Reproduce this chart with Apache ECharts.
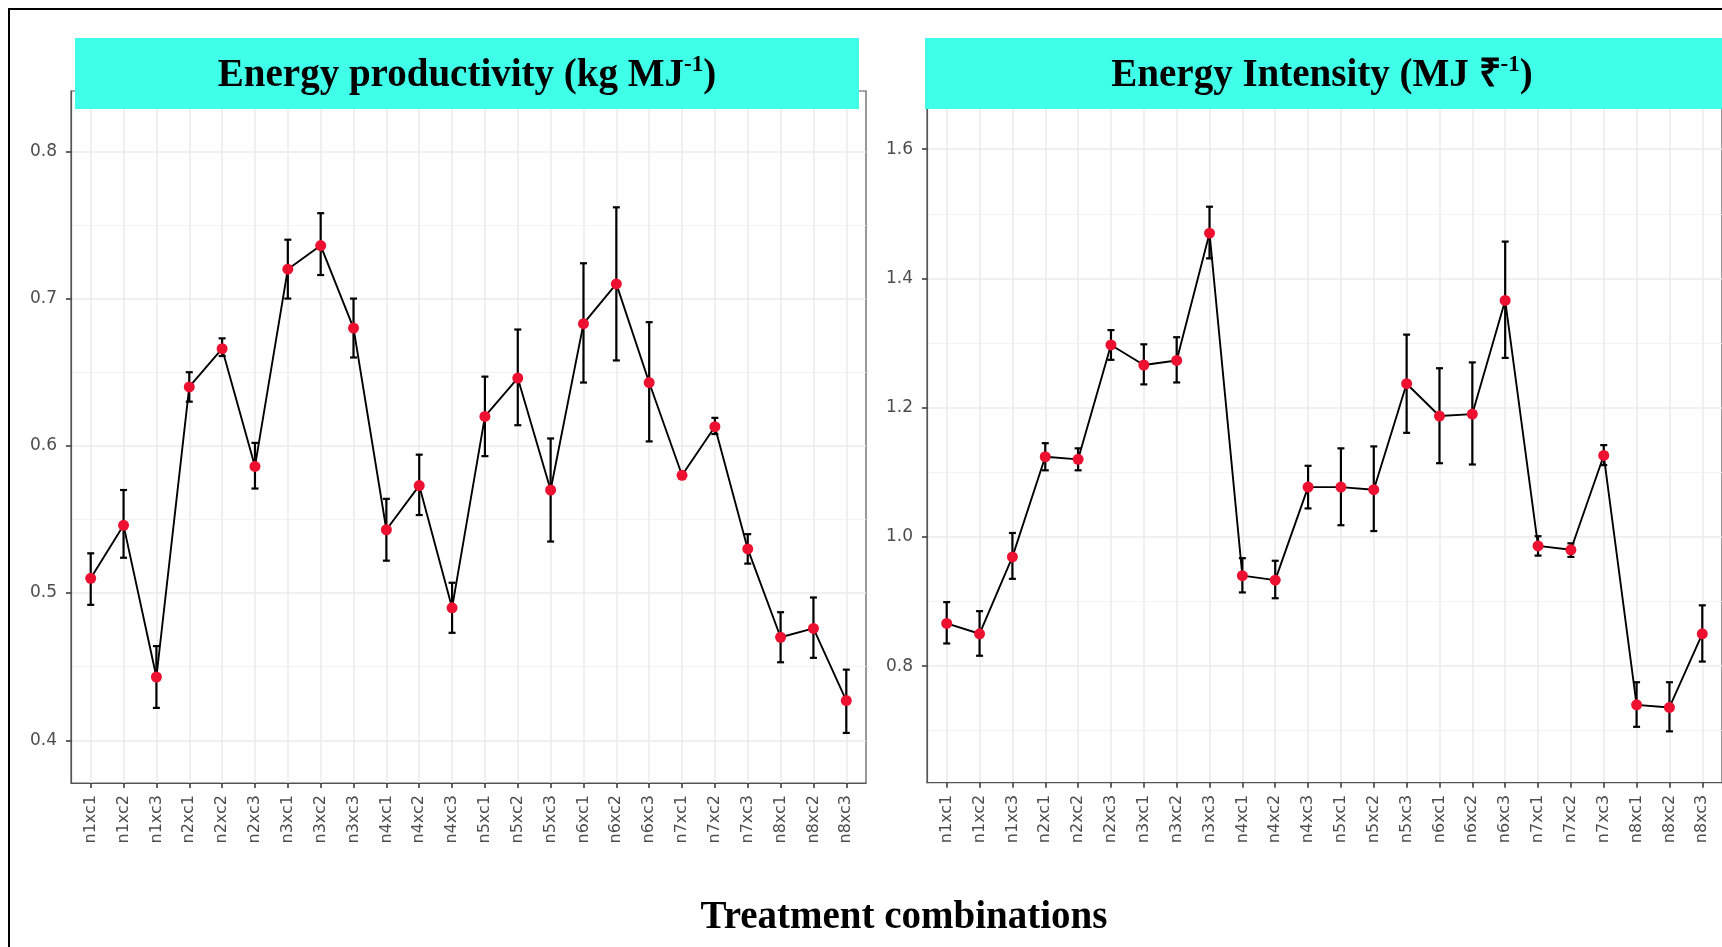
<!DOCTYPE html>
<html><head><meta charset="utf-8">
<script src="https://cdn.jsdelivr.net/npm/echarts@6/dist/echarts.min.js"></script>
<style>
html,body{margin:0;padding:0;background:#fff;}
#wrap{position:relative;width:1722px;height:947px;overflow:hidden;}
#chart{position:absolute;left:0;top:0;width:1722px;height:947px;}
#frame{position:absolute;left:8px;top:8px;width:1714px;height:939px;border-top:2px solid #000;border-left:2px solid #000;pointer-events:none;}
</style></head><body>
<div id="wrap"><div id="chart"></div><div id="frame"></div></div>
<script>
const categories = ['n1xc1','n1xc2','n1xc3','n2xc1','n2xc2','n2xc3','n3xc1','n3xc2','n3xc3','n4xc1','n4xc2','n4xc3',
  'n5xc1','n5xc2','n5xc3','n6xc1','n6xc2','n6xc3','n7xc1','n7xc2','n7xc3','n8xc1','n8xc2','n8xc3'];

const productivity     = [0.510,0.546,0.443,0.640,0.666,0.586,0.720,0.736,0.680,0.543,0.573,0.490,0.620,0.646,0.570,0.683,0.710,0.643,0.580,0.613,0.530,0.470,0.476,0.427];
const productivityLow  = [0.492,0.524,0.422,0.630,0.661,0.571,0.700,0.716,0.660,0.522,0.553,0.473,0.593,0.614,0.535,0.643,0.658,0.603,0.579,0.608,0.520,0.453,0.456,0.405];
const productivityHigh = [0.527,0.570,0.464,0.650,0.673,0.602,0.740,0.758,0.700,0.564,0.594,0.507,0.647,0.679,0.605,0.724,0.762,0.684,0.581,0.619,0.540,0.487,0.497,0.448];

const intensity     = [0.866,0.850,0.969,1.124,1.120,1.297,1.266,1.273,1.470,0.940,0.933,1.077,1.077,1.073,1.237,1.187,1.190,1.366,0.986,0.980,1.126,0.740,0.736,0.850];
const intensityLow  = [0.835,0.816,0.935,1.103,1.103,1.274,1.236,1.239,1.431,0.914,0.905,1.044,1.018,1.009,1.161,1.114,1.112,1.277,0.971,0.969,1.111,0.706,0.699,0.807];
const intensityHigh = [0.899,0.885,1.006,1.145,1.137,1.320,1.298,1.309,1.511,0.967,0.963,1.110,1.137,1.140,1.313,1.261,1.270,1.457,1.001,0.990,1.142,0.775,0.775,0.894];

const productivityTicks      = [0.4,0.5,0.6,0.7,0.8];
const productivityMinorTicks = [0.45,0.55,0.65,0.75];
const intensityTicks         = [0.8,1.0,1.2,1.4,1.6];
const intensityMinorTicks    = [0.7,0.9,1.1,1.3,1.5];

const leftTitle  = '{m|Energy productivity (kg MJ}{s|-1}{m|)}';
const rightTitle = '{m|Energy Intensity (MJ ₹}{s|-1}{m|)}';
const xTitle = 'Treatment combinations';

const catIdx = categories.map((c, i) => i);
const GREY = '#4D4D4D';

function xAxisFor(gi) {
  return {
    type: 'value', gridIndex: gi, min: -0.6, max: categories.length - 0.4,
    axisLine: { show: true, onZero: false, lineStyle: { color: '#555', width: 1.2 } },
    axisTick: { show: true, length: 5, customValues: catIdx, lineStyle: { color: '#333', width: 1.5 } },
    axisLabel: { customValues: catIdx, rotate: 90, margin: 12, fontFamily: 'DejaVu Sans', fontSize: 16, color: GREY,
      padding: [7, 0, 0, 0], formatter: v => categories[Math.round(v)] },
    splitLine: { show: true, lineStyle: { color: '#EBEBEB', width: 1.5 } }
  };
}
function yMinor(gi, min, max, minor) {
  return {
    type: 'value', gridIndex: gi, min, max, position: 'left',
    axisLine: { show: false }, axisTick: { show: false, customValues: minor }, axisLabel: { show: false, customValues: minor },
    splitLine: { show: true, lineStyle: { color: '#F3F3F3', width: 1 } }
  };
}
function yMajor(gi, min, max, ticks) {
  return {
    type: 'value', gridIndex: gi, min, max, position: 'left',
    axisLine: { show: true, onZero: false, lineStyle: { color: '#555', width: 1.2 } },
    axisTick: { show: true, length: 5, customValues: ticks, lineStyle: { color: '#333', width: 1.5 } },
    axisLabel: { customValues: ticks, margin: 14, fontFamily: 'DejaVu Sans', fontSize: 17, color: GREY,
      formatter: v => v.toFixed(1) },
    splitLine: { show: true, lineStyle: { color: '#EBEBEB', width: 1.5 } }
  };
}

function errorBar(params, api) {
  const x = api.value(0);
  const lo = api.coord([x, api.value(1)]);
  const hi = api.coord([x, api.value(2)]);
  const w = 3.5;
  const style = { stroke: '#000', lineWidth: 2.2 };
  return { type: 'group', children: [
    { type: 'line', shape: { x1: lo[0], y1: lo[1], x2: hi[0], y2: hi[1] }, style },
    { type: 'line', shape: { x1: lo[0] - w, y1: lo[1], x2: lo[0] + w, y2: lo[1] }, style },
    { type: 'line', shape: { x1: hi[0] - w, y1: hi[1], x2: hi[0] + w, y2: hi[1] }, style }
  ]};
}

function seriesFor(xi, yi, vals, lows, highs) {
  return [
    { type: 'custom', xAxisIndex: xi, yAxisIndex: yi, z: 3, renderItem: errorBar,
      encode: { x: 0, y: [1, 2] }, data: lows.map((l, i) => [i, l, highs[i]]) },
    { type: 'line', xAxisIndex: xi, yAxisIndex: yi, z: 4, data: vals.map((v, i) => [i, v]),
      symbol: 'circle', symbolSize: 11, itemStyle: { color: '#EE1030', borderWidth: 0 },
      lineStyle: { color: '#000', width: 1.9 } }
  ];
}

const titleRich = {
  m: { fontFamily: 'Liberation Serif', fontWeight: 'bold', fontSize: 39, color: '#000', lineHeight: 44 },
  s: { fontFamily: 'Liberation Serif', fontWeight: 'bold', fontSize: 23, color: '#000', lineHeight: 44, verticalAlign: 'top', padding: [0, 0, 0, 0] }
};

const chart = echarts.init(document.getElementById('chart'), null, { renderer: 'canvas' });
chart.setOption({
  animation: false,
  backgroundColor: '#fff',
  grid: [
    { left: 71, top: 91, width: 795, height: 692, show: true, borderColor: '#555', borderWidth: 1.2, containLabel: false },
    { left: 927, top: 91.7, width: 795, height: 691, show: true, borderColor: '#555', borderWidth: 1.2, containLabel: false }
  ],
  xAxis: [xAxisFor(0), xAxisFor(1)],
  yAxis: [
    yMinor(0, 0.371, 0.841, productivityMinorTicks),
    yMajor(0, 0.371, 0.841, productivityTicks),
    yMinor(1, 0.6195, 1.689, intensityMinorTicks),
    yMajor(1, 0.6195, 1.689, intensityTicks)
  ],
  series: [
    ...seriesFor(0, 1, productivity, productivityLow, productivityHigh),
    ...seriesFor(1, 3, intensity, intensityLow, intensityHigh)
  ],
  graphic: [
    { type: 'rect', z: 100, shape: { x: 75, y: 38, width: 784, height: 71 }, style: { fill: '#3FFFE9' } },
    { type: 'rect', z: 100, shape: { x: 925, y: 38, width: 800, height: 71 }, style: { fill: '#3FFFE9' } },
    { type: 'text', z: 101, x: 467, y: 76, style: { text: leftTitle, rich: titleRich, align: 'center', verticalAlign: 'middle' } },
    { type: 'text', z: 101, x: 1322, y: 76, style: { text: rightTitle, rich: titleRich, align: 'center', verticalAlign: 'middle' } },
    { type: 'text', z: 101, x: 904, y: 918, style: { text: xTitle, align: 'center', verticalAlign: 'middle',
      fontFamily: 'Liberation Serif', fontWeight: 'bold', fontSize: 39, fill: '#000' } }
  ]
});
</script>
</body></html>
